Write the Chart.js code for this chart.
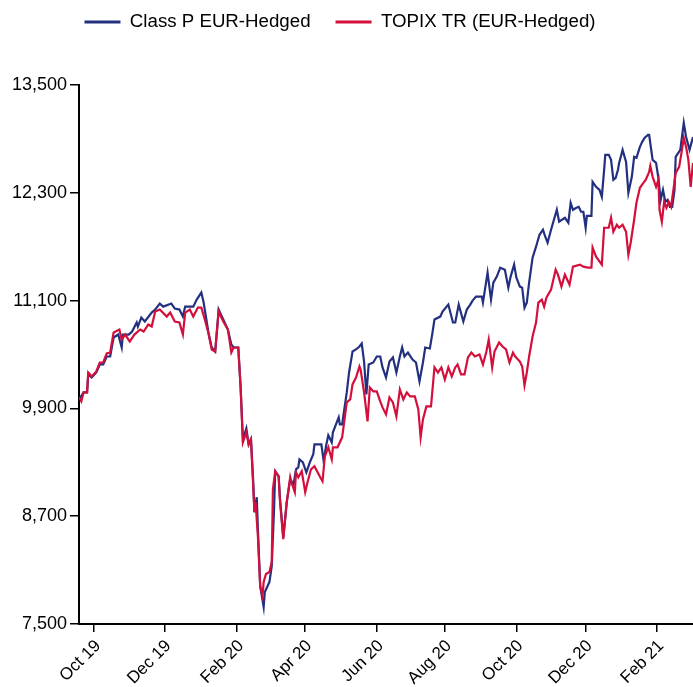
<!DOCTYPE html>
<html>
<head>
<meta charset="utf-8">
<script src="https://cdn.jsdelivr.net/npm/chart.js@4.4.1/dist/chart.umd.min.js"></script>
<style>
html,body{margin:0;padding:0;background:#fff;}
#wrap{width:693px;height:687px;position:relative;}
</style>
</head>
<body>
<div id="wrap"><canvas id="c" width="693" height="687"></canvas></div>
<script>
// ---- Data (x = days since start of chart, ~mid-Sep 2019) ----
const seriesNames = ['Class P EUR-Hedged', 'TOPIX TR (EUR-Hedged)'];
const seriesColors = ['#22307f', '#d30f3c'];

const tickDays = [13, 74, 137, 196, 258, 317, 379, 439, 501];
const tickLabels = ['Oct 19', 'Dec 19', 'Feb 20', 'Apr 20', 'Jun 20', 'Aug 20', 'Oct 20', 'Dec 20', 'Feb 21'];

const yTicksMin = 7500;
const yTicksMax = 13500;
const yTickStep = 1200;
const xMaxDay = 532;

const classPDays = [0,4,7,8,11,15,18,21,24,27,30,34,37,38,43,46,50,51,54,57,63,66,70,73,80,83,87,90,92,99,102,106,108,112,115,118,121,125,129,132,134,138,140,142,145,147,149,151,152,154,155,157,160,161,163,165,167,169,170,173,174,177,180,183,186,188,190,191,194,197,200,203,204,210,212,214,216,219,220,225,226,228,232,234,237,240,243,245,247,249,251,255,258,261,263,266,269,272,275,278,280,282,285,289,292,295,298,300,304,306,308,313,315,320,324,326,329,333,336,339,341,344,349,350,352,354,357,359,362,365,369,372,374,377,379,382,384,386,388,390,393,396,399,402,404,406,409,411,414,416,421,424,426,428,431,433,435,437,439,440,444,445,448,451,453,455,456,459,461,463,465,467,468,471,474,476,479,481,483,486,488,490,493,494,497,500,502,504,506,508,510,512,514,516,517,521,524,526,529,532];
const classPValues = [10000,10078,10078,10278,10244,10300,10389,10389,10478,10478,10689,10722,10578,10722,10722,10756,10856,10811,10911,10867,10967,11000,11067,11033,11067,11011,11000,10922,11033,11033,11111,11189,11078,10756,10578,10533,11000,10889,10778,10611,10578,10578,10144,9556,9678,9500,9556,9078,8744,8911,8556,7922,7689,7856,7911,7967,8144,8778,9200,9144,8922,8467,8856,9111,9056,9222,9244,9333,9300,9189,9300,9389,9500,9500,9311,9478,9600,9522,9633,9800,9722,9722,10078,10300,10533,10556,10589,10622,10422,10056,10389,10411,10478,10478,10356,10244,10422,10467,10300,10478,10578,10478,10522,10444,10411,10200,10411,10578,10567,10722,10889,10922,10978,11056,10856,10856,11056,10867,11000,11056,11100,11144,11144,11078,11244,11411,11111,11300,11367,11467,11444,11244,11367,11500,11356,11256,11244,11022,11078,11300,11578,11700,11833,11889,11811,11744,11889,11978,12111,11978,12022,11967,12189,12111,12133,12144,12089,12089,11911,12044,12044,12422,12367,12333,12256,12556,12722,12722,12667,12444,12467,12556,12633,12778,12644,12300,12478,12700,12689,12811,12867,12911,12944,12944,12667,12633,12467,12222,12333,12200,12222,12144,12144,12333,12700,12778,13078,12922,12778,12922];

const topixDays = [0,2,4,7,8,11,15,18,21,24,27,30,35,37,40,44,48,53,56,60,63,66,70,76,79,83,87,90,92,96,99,103,106,109,112,115,118,121,125,129,132,134,138,140,142,145,147,149,152,153,155,157,159,160,162,165,167,168,170,173,174,177,180,183,184,187,188,190,193,196,198,201,204,209,211,213,216,219,220,224,228,232,235,237,240,243,244,247,250,252,255,258,261,263,266,269,272,275,278,281,284,287,291,294,296,298,301,305,308,311,314,317,320,323,326,328,331,334,337,340,343,347,350,353,355,358,360,364,367,370,373,376,378,382,384,386,388,390,393,396,398,401,403,405,409,413,415,418,421,425,428,434,437,441,444,445,448,453,455,459,461,463,466,468,471,474,476,478,481,483,486,489,491,494,495,497,500,502,503,505,507,509,511,513,515,517,520,522,524,526,528,530,532];
const topixValues = [10022,9978,10078,10078,10300,10256,10311,10411,10411,10511,10522,10744,10778,10667,10722,10644,10722,10778,10756,10833,10811,10978,11000,10922,10967,10867,10856,10722,10967,11000,10922,11022,11022,10889,10744,10556,10533,10978,10867,10778,10522,10578,10578,10144,9522,9633,9500,9556,8744,8856,8478,7922,7811,7967,8056,8078,8189,9000,9200,9144,8889,8444,8856,9133,9078,8967,9189,9133,9200,8967,9078,9222,9256,9133,9089,9367,9467,9333,9467,9467,9578,9967,10000,10167,10244,10367,10333,10078,9756,10133,10089,10089,9978,9911,9833,10022,9967,9811,10111,10000,10078,10033,10033,9889,9578,9778,9922,9922,10356,10300,10356,10222,10356,10256,10356,10389,10278,10278,10467,10522,10478,10500,10389,10533,10667,10356,10533,10633,10589,10556,10411,10522,10478,10422,10367,10156,10300,10478,10700,10856,11078,11111,11033,11133,11222,11444,11389,11256,11389,11278,11478,11500,11478,11467,11467,11689,11589,11500,11911,11911,12022,11867,11944,11911,11944,11867,11611,11744,12000,12189,12356,12411,12444,12533,12600,12478,12367,12444,12111,11978,12200,12133,12200,12144,12333,12522,12589,12744,12911,12811,12667,12367,12633];

// ---- Layout tuning ----
const FONT = "'Liberation Sans', Arial, sans-serif";
const LEGEND_HEIGHT = 85;
const LEGEND_DX = -6.5;
const LEGEND_DY = -12.3;

function toPoints(days, vals) {
  return days.map((d, i) => ({ x: d, y: vals[i] }));
}

const layoutTweaks = {
  id: 'layoutTweaks',
  afterInit(chart) {
    const lg = chart.legend;
    if (!lg) return;
    const fit = lg.fit;
    lg.fit = function () { fit.call(this); this.height = LEGEND_HEIGHT; };
    const draw = lg.draw;
    lg.draw = function () {
      const ctx = this.ctx;
      ctx.save();
      ctx.translate(LEGEND_DX, LEGEND_DY);
      draw.apply(this, arguments);
      ctx.restore();
    };
  }
};

new Chart(document.getElementById('c'), {
  type: 'line',
  data: {
    datasets: [
      {
        label: seriesNames[0],
        data: toPoints(classPDays, classPValues),
        borderColor: seriesColors[0],
        backgroundColor: seriesColors[0],
        borderWidth: 2.2,
        pointRadius: 0,
        tension: 0,
        fill: false,
        order: 2
      },
      {
        label: seriesNames[1],
        data: toPoints(topixDays, topixValues),
        borderColor: seriesColors[1],
        backgroundColor: seriesColors[1],
        borderWidth: 2.2,
        pointRadius: 0,
        tension: 0,
        fill: false,
        order: 1
      }
    ]
  },
  options: {
    responsive: false,
    devicePixelRatio: 1,
    animation: false,
    layout: { padding: 0 },
    plugins: {
      tooltip: { enabled: false },
      legend: {
        position: 'top',
        align: 'center',
        labels: {
          boxWidth: 36,
          boxHeight: 3,
          padding: 25,
          color: '#000',
          font: { family: FONT, size: 18.7 },
          sort(a, b) { return a.datasetIndex - b.datasetIndex; },
          generateLabels(chart) {
            const items = Chart.defaults.plugins.legend.labels.generateLabels(chart);
            items.forEach(it => { it.lineWidth = 0; });
            return items;
          }
        }
      }
    },
    scales: {
      x: {
        type: 'linear',
        min: 0,
        max: xMaxDay,
        afterBuildTicks(scale) {
          scale.ticks = tickDays.map(v => ({ value: v }));
        },
        afterFit(scale) { scale.height = 63; },
        ticks: {
          autoSkip: false,
          minRotation: 45,
          maxRotation: 45,
          padding: 4,
          labelOffset: 4,
          color: '#000',
          font: { family: FONT, size: 17 },
          callback(value, index) { return tickLabels[index]; }
        },
        grid: {
          display: true,
          drawOnChartArea: false,
          drawTicks: true,
          tickLength: 8,
          color: '#000',
          lineWidth: 1.5
        },
        border: { display: true, color: '#000', width: 2 }
      },
      y: {
        min: yTicksMin,
        max: yTicksMax,
        afterFit(scale) { scale.width = 79; },
        ticks: {
          stepSize: yTickStep,
          padding: 3,
          color: '#000',
          font: { family: FONT, size: 18 }
        },
        grid: {
          display: true,
          drawOnChartArea: false,
          drawTicks: true,
          tickLength: 9,
          color: '#000',
          lineWidth: 1.5
        },
        border: { display: true, color: '#000', width: 2 }
      }
    }
  },
  plugins: [layoutTweaks]
});
</script>
</body>
</html>
